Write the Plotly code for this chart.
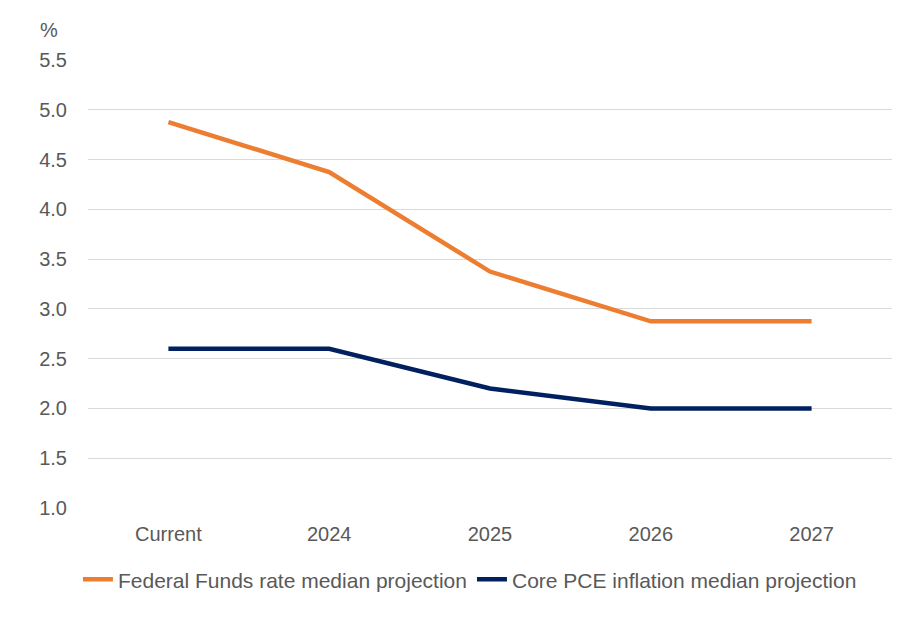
import plotly.graph_objects as go

# Categories and projections (%)
categories = ["Current", "2024", "2025", "2026", "2027"]
fed_funds = [4.875, 4.375, 3.375, 2.875, 2.875]
core_pce = [2.6, 2.6, 2.2, 2.0, 2.0]
y_ticks = [1.0, 1.5, 2.0, 2.5, 3.0, 3.5, 4.0, 4.5, 5.0, 5.5]

font_family = "Liberation Sans, Arial, sans-serif"
text_color = "#595959"

fig = go.Figure()
fig.add_trace(go.Scatter(
    x=categories, y=fed_funds, mode="lines",
    name="Federal Funds rate median projection",
    line=dict(color="#ED7D31", width=4.5),
))
fig.add_trace(go.Scatter(
    x=categories, y=core_pce, mode="lines",
    name="Core PCE inflation median projection",
    line=dict(color="#002060", width=4.5),
))

fig.update_layout(
    width=904, height=618,
    margin=dict(l=80, r=20, t=52, b=118),
    plot_bgcolor="white", paper_bgcolor="white",
    font=dict(family=font_family, size=20, color=text_color),
    showlegend=True,
    legend=dict(
        orientation="h", xref="container", yref="container",
        x=0.511, xanchor="center", y=0.075, yanchor="middle",
        font=dict(size=21, color=text_color),
        tracegroupgap=0,
    ),
    xaxis=dict(
        type="category", range=[-0.5, 4.5], showgrid=False, zeroline=False,
        showline=False, ticks="", ticklabelstandoff=12, automargin=False,
        tickfont=dict(size=20, color=text_color),
    ),
    yaxis=dict(
        range=[1.0, 5.5], tickvals=y_ticks,
        ticktext=[f"{v:.1f}" for v in y_ticks],
        showgrid=True, gridcolor="#D9D9D9", gridwidth=1,
        zeroline=False, showline=False, ticks="", automargin=False,
        ticklabelstandoff=20,
        tickfont=dict(size=20, color=text_color),
    ),
    annotations=[dict(
        text="%", xref="paper", yref="paper", x=-0.062, y=1.067,
        xanchor="left", yanchor="middle", showarrow=False,
        font=dict(size=20, color=text_color),
    )],
)

fig.write_html("out.html")
